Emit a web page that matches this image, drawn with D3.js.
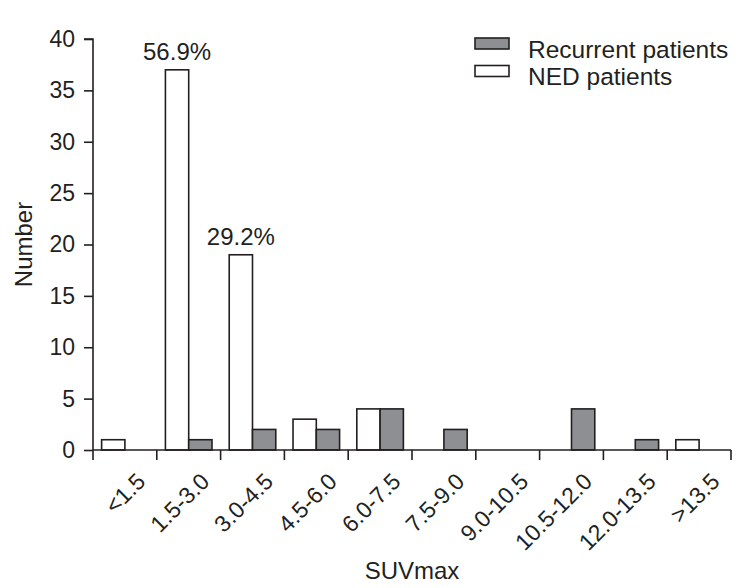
<!DOCTYPE html>
<html>
<head>
<meta charset="utf-8">
<script src="https://cdn.jsdelivr.net/npm/d3@7"></script>
<style>
  body { margin: 0; background: #fff; }
  svg { display: block; font-family: "Liberation Sans", Arial, sans-serif; }
</style>
</head>
<body>
<svg id="chart" width="746" height="588"></svg>
<script>
const categories = ["<1.5", "1.5-3.0", "3.0-4.5", "4.5-6.0", "6.0-7.5", "7.5-9.0", "9.0-10.5", "10.5-12.0", "12.0-13.5", ">13.5"];
const nedValues = [1, 37, 19, 3, 4, 0, 0, 0, 0, 1];
const recurrentValues = [0, 1, 2, 2, 4, 2, 0, 4, 1, 0];
const seriesNames = ["NED patients", "Recurrent patients"];
const yTicks = [0, 5, 10, 15, 20, 25, 30, 35, 40];
const percentLabels = [null, "56.9%", "29.2%", null, null, null, null, null, null, null];

const svg = d3.select("#chart");
const x0 = 93, x1 = 731, yBase = 450, yTop = 39;
const stroke = "#231f20";
const gray = "#8e8f93";
const FONT = "Liberation Sans, Arial, sans-serif";

const x = d3.scaleBand().domain(categories).range([x0, x1]).paddingInner(0).paddingOuter(0);
const inner = d3.scaleBand().domain(seriesNames).range([0, x.bandwidth()]).paddingOuter(0.37).paddingInner(0);
const y = d3.scaleLinear().domain([0, 40]).range([yBase, yTop]);

const rows = categories.map((c, i) => ({ cat: c, vals: [
  { s: "NED patients", v: nedValues[i] },
  { s: "Recurrent patients", v: recurrentValues[i] }
]}));

// bars
const g = svg.append("g");
rows.forEach(r => {
  r.vals.forEach(d => {
    if (d.v <= 0) return;
    g.append("rect")
      .attr("x", x(r.cat) + inner(d.s))
      .attr("y", y(d.v))
      .attr("width", inner.bandwidth())
      .attr("height", y(0) - y(d.v))
      .attr("fill", d.s === "NED patients" ? "#fff" : gray)
      .attr("stroke", stroke)
      .attr("stroke-width", 1.6);
  });
});

// y axis
const yAxis = d3.axisLeft(y).tickValues(yTicks).tickSize(9).tickPadding(9);
const ya = svg.append("g").attr("transform", `translate(${x0},0)`).call(yAxis);
ya.attr("font-family", FONT).attr("font-size", 23);
ya.select(".domain").attr("stroke", stroke).attr("stroke-width", 1.6).attr("d", `M-9,${yTop}H0V${yBase}`);
ya.selectAll(".tick line").attr("stroke", stroke).attr("stroke-width", 1.6);
ya.selectAll(".tick text").attr("font-size", 23).attr("fill", stroke);

// x axis
const xAxis = d3.axisBottom(x).tickSize(0).tickFormat("");
const xa = svg.append("g").attr("transform", `translate(0,${yBase})`).call(xAxis);
xa.select(".domain").attr("stroke", stroke).attr("stroke-width", 1.6).attr("d", `M${x0},0H${x1}`);
xa.selectAll(".tick").remove();
const edges = categories.map(c => x(c)).concat([x1]);
xa.selectAll("line.edge").data(edges).enter().append("line")
  .attr("x1", d => d).attr("x2", d => d).attr("y1", 0).attr("y2", 10)
  .attr("stroke", stroke).attr("stroke-width", 1.6);

// x labels rotated
svg.append("g").selectAll("text").data(categories).enter().append("text")
  .attr("transform", d => `translate(${x(d) + x.bandwidth() / 2 + 22},${yBase + 33}) rotate(-45)`)
  .attr("text-anchor", "end")
  .attr("font-size", 23)
  .attr("fill", stroke)
  .text(d => d);

// percent labels
rows.forEach((r, i) => {
  if (!percentLabels[i]) return;
  svg.append("text")
    .attr("x", x(r.cat) + inner("NED patients") + inner.bandwidth() / 2)
    .attr("y", y(nedValues[i]) - 10)
    .attr("text-anchor", "middle")
    .attr("font-size", 24)
    .attr("fill", stroke)
    .text(percentLabels[i]);
});

// axis titles
svg.append("text").attr("x", (x0 + x1) / 2).attr("y", 579).attr("text-anchor", "middle")
  .attr("font-size", 24).attr("fill", stroke).text("SUVmax");
svg.append("text").attr("transform", `translate(32,${(yBase + yTop) / 2}) rotate(-90)`)
  .attr("text-anchor", "middle").attr("font-size", 24).attr("fill", stroke).text("Number");

// legend
const legend = [
  { name: "Recurrent patients", fill: gray },
  { name: "NED patients", fill: "#fff" }
];
const lg = svg.append("g").attr("transform", "translate(475,38)");
legend.forEach((d, i) => {
  lg.append("rect").attr("x", 0).attr("y", i * 27.5).attr("width", 34).attr("height", 11)
    .attr("fill", d.fill).attr("stroke", stroke).attr("stroke-width", 1.6);
  lg.append("text").attr("x", 53).attr("y", i * 27.5 + 19.5).attr("font-size", 24.5)
    .attr("fill", stroke).text(d.name);
});
</script>
</body>
</html>
